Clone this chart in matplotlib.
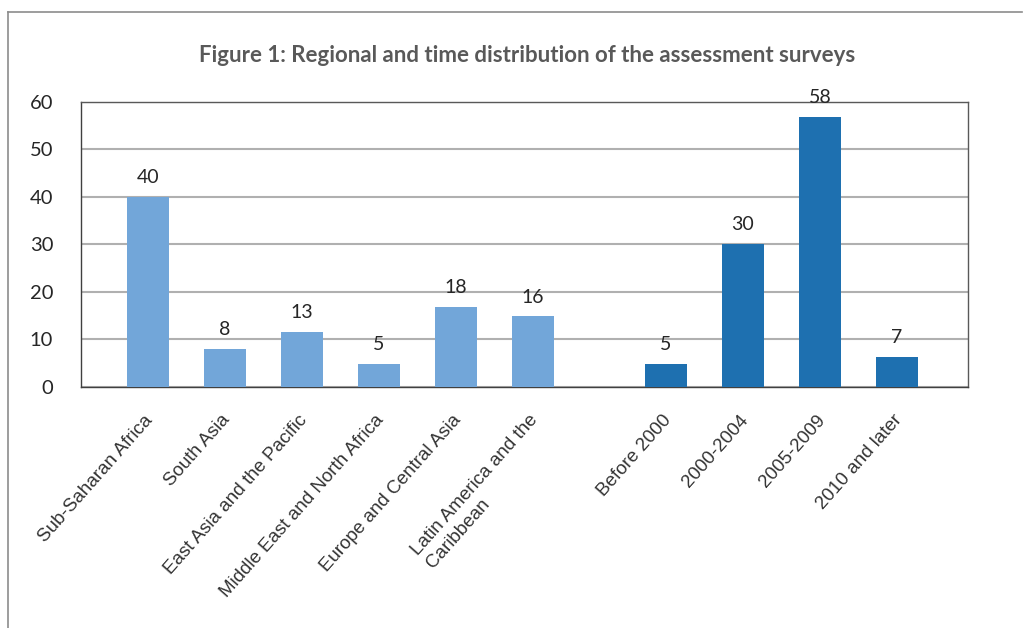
import matplotlib
matplotlib.use("Agg")
import matplotlib.pyplot as plt
import matplotlib.transforms as mtransforms
import numpy as np
from matplotlib.lines import Line2D

# ------------------------
# data
# ------------------------
regions = ["Sub-Saharan Africa", "South Asia", "East Asia and the Pacific",
           "Middle East and North Africa", "Europe and Central Asia",
           "Latin America and the\nCaribbean"]
region_heights = [40, 8, 11.6, 4.8, 16.9, 14.8]
region_labels = ["40", "8", "13", "5", "18", "16"]

periods = ["Before 2000", "2000-2004", "2005-2009", "2010 and later"]
period_heights = [4.8, 30, 56.8, 6.3]
period_labels = ["5", "30", "58", "7"]

title = "Figure 1: Regional and time distribution of the assessment surveys"

light_blue = "#72a6d9"
dark_blue = "#1e70b0"

# ------------------------
# figure
# ------------------------
W, H = 1026, 628
fig = plt.figure(figsize=(W / 100, H / 100), dpi=100)
ax = fig.add_axes([81 / W, 1 - 386.7 / H, 886.7 / W, 284.7 / H])

x_reg = np.arange(len(regions))
x_per = np.arange(len(periods)) + 6.73
bw = 0.545

ax.bar(x_reg, region_heights, width=bw, color=light_blue, zorder=3)
ax.bar(x_per, period_heights, width=bw, color=dark_blue, zorder=3)

for xs, hs, labs in [(x_reg, region_heights, region_labels), (x_per, period_heights, period_labels)]:
    for x, h, lab in zip(xs, hs, labs):
        ax.annotate(lab, (x, h), xytext=(0, 14), textcoords="offset points",
                    ha="center", va="center", fontsize=14, family="Lato",
                    color="#262626", annotation_clip=False)

ax.set_xlim(-0.87, 10.65)
ax.set_ylim(0, 60)
ax.set_yticks(range(0, 61, 10))
ax.yaxis.grid(True, color="#b0b0b0", linewidth=1.5, zorder=0)
ax.set_axisbelow(True)

for s in ax.spines.values():
    s.set_color("#595959")
    s.set_linewidth(1.0)
ax.spines["left"].set_color("#404040")
ax.spines["bottom"].set_color("#404040")

ax.tick_params(axis="both", length=0)
ax.tick_params(axis="y", pad=20, labelsize=14.5, labelcolor="#262626")
for t in ax.get_yticklabels():
    t.set_family("Lato")

ax.set_xticks(list(x_reg) + list(x_per))
ax.set_xticklabels(regions + periods, rotation=48.5, ha="right", va="top",
                   rotation_mode="anchor", fontsize=13.5, family="Liberation Sans",
                   color="#333333", multialignment="left")
ax.tick_params(axis="x", pad=18)
shift = mtransforms.ScaledTranslation(-4 / 100, 0, fig.dpi_scale_trans)
for t in ax.get_xticklabels():
    t.set_transform(t.get_transform() + shift)

fig.text(527 / W, 1 - 56 / H, title, ha="center", va="center", fontsize=16,
         fontweight="bold", family="Lato", color="#595959")

# outer frame (left and top edges visible)
fig.add_artist(Line2D([8 / W, 8 / W], [0, 1 - 12 / H], color="#8c8c8c", lw=1.2,
                      transform=fig.transFigure))
fig.add_artist(Line2D([8 / W, 1022 / W], [1 - 12 / H, 1 - 12 / H], color="#8c8c8c", lw=1.2,
                      transform=fig.transFigure))

fig.savefig("out.png", dpi=100)
